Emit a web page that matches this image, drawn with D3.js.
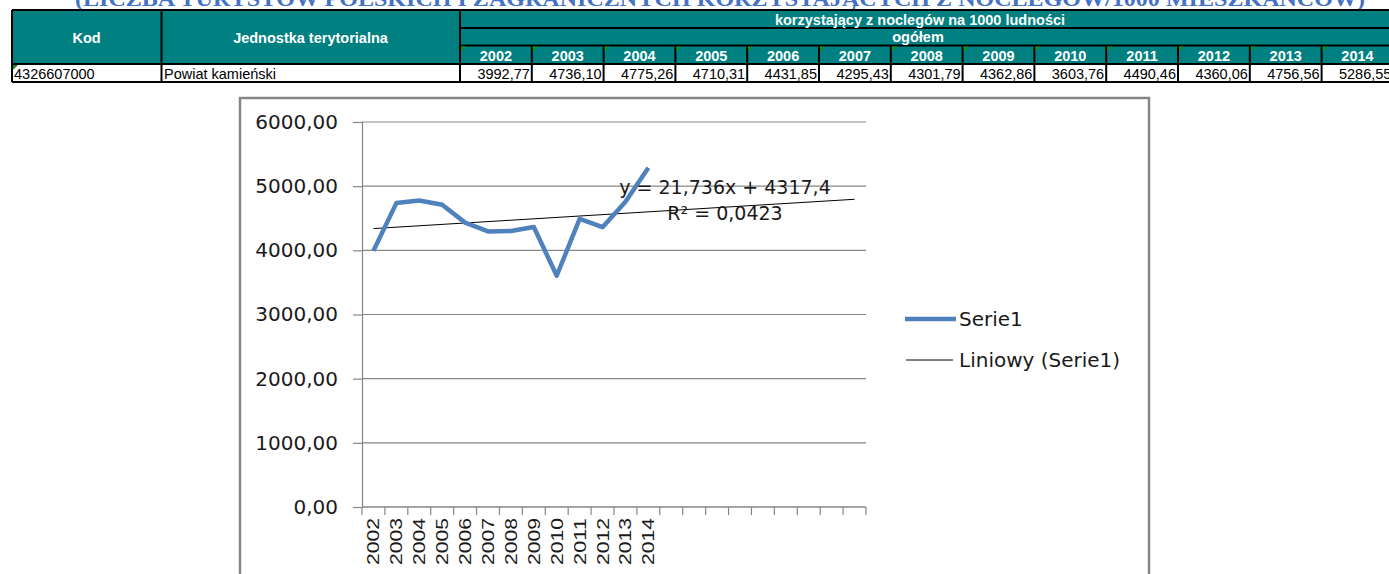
<!DOCTYPE html>
<html>
<head>
<meta charset="utf-8">
<script src="https://cdn.jsdelivr.net/npm/d3@7"></script>
<style>
  html, body { margin: 0; padding: 0; background: #fff; overflow: hidden; }
  svg { display: block; }
</style>
</head>
<body>
<svg id="chart"></svg>
<script>
// data
var years = ["2002","2003","2004","2005","2006","2007","2008","2009","2010","2011","2012","2013","2014"]
var values = [3992.77, 4736.10, 4775.26, 4710.31, 4431.85, 4295.43, 4301.79, 4362.86, 3603.76, 4490.46, 4360.06, 4756.56, 5286.55]
var valueLabels = ["3992,77","4736,10","4775,26","4710,31","4431,85","4295,43","4301,79","4362,86","3603,76","4490,46","4360,06","4756,56","5286,55"]
var emptyCategories = 9   // the chart range runs past 2014 into empty columns
var yTicks = [0, 1000, 2000, 3000, 4000, 5000, 6000]
var kod = "4326607000"
var unitName = "Powiat kamieński"
var titleText = "(LICZBA TURYSTÓW POLSKICH I ZAGRANICZNYCH KORZYSTAJĄCYCH Z NOCLEGÓW/1000 MIESZKAŃCÓW)"
var headTop = "korzystający z noclegów na 1000 ludności"
var headMid = "ogółem"
var eqText = "y = 21,736x + 4317,4"
var r2Text = "R² = 0,0423"
var legendNames = ["Serie1", "Liniowy (Serie1)"]

var width = 1389, height = 574
var svg = d3.select('#chart').attr('width', width).attr('height', height)

var teal = '#008080'
var blue = '#4F81BD'
var grid = '#868686'

// ---------- sheet title (cut off at top) ----------
svg.append('text')
  .attr('x', 720).attr('y', 6)
  .attr('text-anchor', 'middle')
  .attr('font-family', '"Liberation Serif", serif')
  .attr('font-weight', 'bold')
  .attr('font-size', 22)
  .attr('fill', '#4472C4')
  .attr('textLength', 1290)
  .attr('lengthAdjust', 'spacingAndGlyphs')
  .text(titleText)

// ---------- table ----------
var tbl = svg.append('g').attr('class', 'table')
var colX = d3.scaleBand().domain(years).range([460, 460 + 71.8 * years.length])
var rowY = [10, 28, 45.5, 64, 82]
var hFont = '"Liberation Sans", Arial, sans-serif'

tbl.append('rect').attr('x', 12).attr('y', rowY[0]).attr('width', width).attr('height', rowY[3] - rowY[0]).attr('fill', teal)

var lines = tbl.append('g').attr('stroke', '#000').attr('stroke-width', 2)
// horizontals
lines.append('line').attr('x1', 12).attr('x2', width).attr('y1', rowY[0]).attr('y2', rowY[0])
lines.append('line').attr('x1', 460).attr('x2', width).attr('y1', rowY[1]).attr('y2', rowY[1])
lines.append('line').attr('x1', 460).attr('x2', width).attr('y1', rowY[2]).attr('y2', rowY[2])
lines.append('line').attr('x1', 12).attr('x2', width).attr('y1', rowY[3]).attr('y2', rowY[3])
lines.append('line').attr('x1', 12).attr('x2', width).attr('y1', rowY[4]).attr('y2', rowY[4])
// verticals
;[12, 161.5, 460].forEach(function(x) {
  lines.append('line').attr('x1', x).attr('x2', x).attr('y1', rowY[0]).attr('y2', rowY[4])
})
years.forEach(function(yr) {
  var x = colX(yr) + colX.bandwidth()
  lines.append('line').attr('x1', x).attr('x2', x).attr('y1', rowY[2]).attr('y2', rowY[4])
})

function headText(x, y, t, anchor) {
  tbl.append('text').attr('x', x).attr('y', y)
    .attr('text-anchor', anchor || 'middle')
    .attr('dominant-baseline', 'central')
    .attr('font-family', hFont).attr('font-weight', 'bold').attr('font-size', 14.5)
    .attr('fill', '#fff').text(t)
}
headText(86.5, 37.5, 'Kod')
headText(310.5, 37.5, 'Jednostka terytorialna')
headText(920, 19.5, headTop)
headText(918, 37, headMid)
years.forEach(function(yr) {
  headText(colX(yr) + colX.bandwidth() / 2, 55.5, yr)
})

// little green "number as text" markers
var marks = years.map(function(yr) { return [colX(yr) + 1, rowY[2] + 1] })
marks.push([13, rowY[3] + 1])
tbl.selectAll('path.mark').data(marks).enter().append('path')
  .attr('class', 'mark')
  .attr('d', function(d) { return 'M' + d[0] + ',' + d[1] + 'h5l-5,5z' })
  .attr('fill', '#1a8a1a')

function cellText(x, t, anchor) {
  tbl.append('text').attr('x', x).attr('y', 73.5)
    .attr('text-anchor', anchor)
    .attr('dominant-baseline', 'central')
    .attr('font-family', hFont).attr('font-size', 14.5)
    .attr('fill', '#000').text(t)
}
cellText(14, kod, 'start')
cellText(164, unitName, 'start')
years.forEach(function(yr, i) {
  cellText(colX(yr) + colX.bandwidth() - 2, valueLabels[i], 'end')
})

// ---------- chart ----------
svg.append('rect')
  .attr('x', 240).attr('y', 98).attr('width', 909).attr('height', 520)
  .attr('fill', '#fff').attr('stroke', grid).attr('stroke-width', 2.5)

var plot = { left: 362, right: 866, top: 122, bottom: 507 }
var categories = years.concat(d3.range(emptyCategories).map(function(i) { return 'e' + i }))

var x = d3.scaleBand().domain(categories).range([plot.left, plot.right])
var y = d3.scaleLinear().domain([0, 6000]).range([plot.bottom, plot.top])
var fmt = function(v) { return d3.format('.2f')(v).replace('.', ',') }
var cFont = '"DejaVu Sans", Verdana, sans-serif'

// gridlines
svg.append('g').selectAll('line').data(yTicks).enter().append('line')
  .attr('x1', plot.left).attr('x2', plot.right)
  .attr('y1', function(d) { return y(d) }).attr('y2', function(d) { return y(d) })
  .attr('stroke', grid).attr('stroke-width', 1.2)

// y axis
var yAxis = svg.append('g')
  .attr('transform', 'translate(' + plot.left + ',0)')
  .call(d3.axisLeft(y).tickValues(yTicks).tickFormat(fmt).tickSize(9).tickPadding(15))
yAxis.select('.domain').attr('stroke', grid).attr('stroke-width', 1.2)
yAxis.selectAll('.tick line').attr('stroke', grid).attr('stroke-width', 1.2)
yAxis.selectAll('.tick text').attr('font-family', cFont).attr('font-size', 20).attr('fill', '#1a1a1a')

// x axis: ticks on category boundaries
var xAxis = svg.append('g').attr('transform', 'translate(0,' + plot.bottom + ')')
xAxis.append('line').attr('x1', plot.left).attr('x2', plot.right).attr('stroke', grid).attr('stroke-width', 1.2)
xAxis.selectAll('line.tk').data(categories.concat(['end'])).enter().append('line')
  .attr('class', 'tk')
  .attr('x1', function(d, i) { return plot.left + i * x.bandwidth() })
  .attr('x2', function(d, i) { return plot.left + i * x.bandwidth() })
  .attr('y1', 0).attr('y2', 8)
  .attr('stroke', grid).attr('stroke-width', 1.2)
xAxis.selectAll('text').data(years).enter().append('text')
  .attr('transform', function(d) {
    return 'translate(' + (x(d) + x.bandwidth() / 2 + 6) + ',11) rotate(-90)'
  })
  .attr('text-anchor', 'end')
  .attr('font-family', '"Liberation Sans", Arial, sans-serif')
  .attr('font-size', 17)
  .attr('textLength', 47).attr('lengthAdjust', 'spacingAndGlyphs')
  .attr('fill', '#1a1a1a')
  .text(function(d) { return d })

// linear trend (least squares on x = 1..n), stretched over the whole category range
var n = values.length
var mx = d3.mean(d3.range(1, n + 1)), my = d3.mean(values)
var sxy = d3.sum(values, function(v, i) { return (i + 1 - mx) * (v - my) })
var sxx = d3.sum(d3.range(1, n + 1), function(k) { return (k - mx) * (k - mx) })
var slope = sxy / sxx, icpt = my - slope * mx
var trend = [1, categories.length].map(function(k) {
  return [x(categories[k - 1]) + x.bandwidth() / 2, y(icpt + slope * k)]
})
svg.append('path')
  .attr('d', d3.line()(trend))
  .attr('fill', 'none').attr('stroke', '#000').attr('stroke-width', 1)

// series line
var line = d3.line()
  .x(function(d, i) { return x(years[i]) + x.bandwidth() / 2 })
  .y(function(d) { return y(d) })
svg.append('path')
  .datum(values)
  .attr('d', line)
  .attr('fill', 'none').attr('stroke', blue).attr('stroke-width', 4.5)
  .attr('stroke-linejoin', 'round')

// trendline equation
svg.append('text').attr('x', 725).attr('y', 187).attr('text-anchor', 'middle')
  .attr('dominant-baseline', 'central')
  .attr('font-family', cFont).attr('font-size', 19).attr('fill', '#1a1a1a').text(eqText)
svg.append('text').attr('x', 725).attr('y', 213).attr('text-anchor', 'middle')
  .attr('dominant-baseline', 'central')
  .attr('font-family', cFont).attr('font-size', 19).attr('fill', '#1a1a1a').text(r2Text)

// legend
var legend = svg.append('g')
var legY = [319, 360]
legend.append('line').attr('x1', 905).attr('x2', 956).attr('y1', legY[0]).attr('y2', legY[0])
  .attr('stroke', blue).attr('stroke-width', 4.5)
legend.append('line').attr('x1', 906).attr('x2', 953).attr('y1', legY[1]).attr('y2', legY[1])
  .attr('stroke', '#000').attr('stroke-width', 1)
legend.selectAll('text').data(legendNames).enter().append('text')
  .attr('x', 959).attr('y', function(d, i) { return legY[i] })
  .attr('dominant-baseline', 'central')
  .attr('font-family', cFont).attr('font-size', 20).attr('fill', '#1a1a1a')
  .text(function(d) { return d })
</script>
</body>
</html>
